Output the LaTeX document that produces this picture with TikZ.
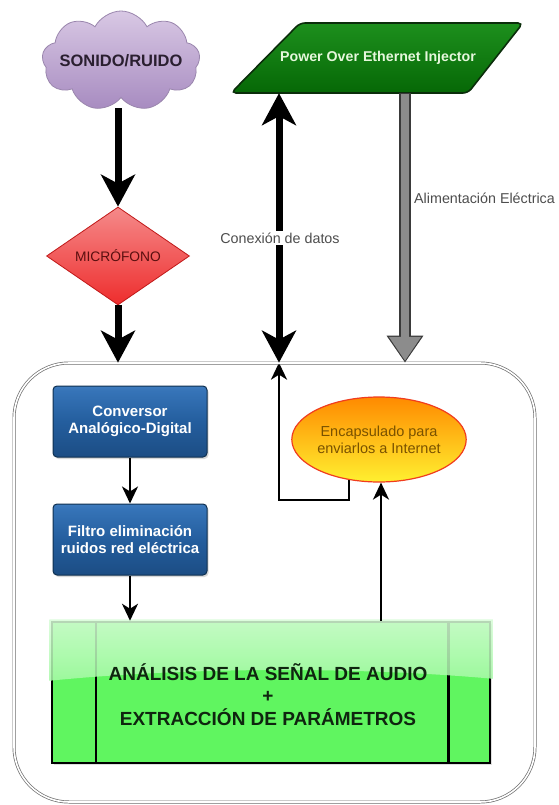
\documentclass[tikz,border=0pt]{standalone}
\usepackage{fontspec}
\setmainfont{Liberation Sans}
\usetikzlibrary{shapes.geometric,shapes.symbols,arrows.meta,shadows,calc,backgrounds}
\definecolor{cloudtop}{HTML}{D8C8E4}
\definecolor{cloudbot}{HTML}{A78BC0}
\definecolor{cloudline}{HTML}{9A86AD}
\definecolor{cloudtext}{HTML}{2A1F30}
\definecolor{mictop}{HTML}{F58A8A}
\definecolor{micbot}{HTML}{EE2D2D}
\definecolor{micline}{HTML}{C01818}
\definecolor{mictext}{HTML}{5A0F0F}
\definecolor{poetop}{HTML}{1D8F1D}
\definecolor{poebot}{HTML}{066806}
\definecolor{poeline}{HTML}{0B2E0B}
\definecolor{poetext}{HTML}{E6F7DC}
\definecolor{bluetop}{HTML}{8CC2EE}
\definecolor{bluemid}{HTML}{3674B8}
\definecolor{bluemidb}{HTML}{245E9E}
\definecolor{bluebot}{HTML}{143C6A}
\definecolor{blueline}{HTML}{0F3050}
\definecolor{enctop}{HTML}{FF8A00}
\definecolor{encbot}{HTML}{FFF030}
\definecolor{encline}{HTML}{F03C1E}
\definecolor{enctext}{HTML}{7A5200}
\definecolor{greenfill}{HTML}{60F560}
\definecolor{grtext}{HTML}{0F250F}
\definecolor{garrowfill}{HTML}{8C8C8C}
\definecolor{garrowline}{HTML}{3A3A3A}
\definecolor{lbltext}{HTML}{4D4D4D}
\definecolor{contline}{HTML}{6E6E6E}
\pgfdeclareverticalshading{bluegloss}{100bp}{color(0bp)=(bluebot); color(50bp)=(bluemidb); color(72bp)=(bluemid); color(100bp)=(bluetop)}
\begin{document}
\begin{tikzpicture}[x=1pt,y=-1pt,
  container/.style={draw=contline, double=white, double distance=1.6pt, line width=0.7pt,
    rounded corners=55pt, minimum width=521pt, minimum height=439pt, inner sep=0pt},
  cloudbox/.style={cloud, cloud puffs=9, cloud puff arc=125, aspect=1.6,
    minimum width=158pt, minimum height=100pt, inner sep=0pt, draw=cloudline, line width=0.8pt,
    top color=cloudtop, bottom color=cloudbot, text=cloudtext,
    font=\bfseries\fontsize{16.5}{18}\selectfont},
  micbox/.style={diamond, draw=micline, line width=0.8pt, top color=mictop, bottom color=micbot,
    minimum width=143pt, minimum height=94pt, inner sep=0pt, text=mictext,
    font=\fontsize{13.8}{15}\selectfont},
  poetxt/.style={minimum width=230pt, minimum height=70pt, inner sep=0pt, text=poetext,
    font=\bfseries\fontsize{14.2}{16}\selectfont},
  bluebox/.style={rectangle, rounded corners=4pt, draw=blueline, line width=1pt,
    shading=bluegloss,
    minimum width=154pt, minimum height=71pt, inner sep=0pt, align=center, text=white,
    font=\bfseries\fontsize{15}{17}\selectfont,
    drop shadow={opacity=0.3, shadow xshift=1.5pt, shadow yshift=-2pt}},
  encbox/.style={ellipse, draw=encline, line width=1.2pt, top color=enctop, bottom color=encbot,
    minimum width=164pt, minimum height=85pt, inner sep=0pt, align=center, text=enctext,
    font=\fontsize{14.5}{17}\selectfont},
  greenbox/.style={rectangle, draw=black, line width=2.5pt, fill=greenfill,
    minimum width=438pt, minimum height=141pt, inner sep=0pt,
    drop shadow={opacity=0.25, shadow xshift=2pt, shadow yshift=-2pt}},
  grlbl/.style={align=center, text=grtext, font=\bfseries\fontsize{19}{22.5}\selectfont},
  lbl/.style={text=lbltext, font=\fontsize{14.3}{16}\selectfont},
  bigarrow/.style={line width=7pt, -{Stealth[length=32pt, width=34pt, inset=9pt]}},
  bigdarrow/.style={line width=7pt, {Stealth[length=32pt, width=34pt, inset=9pt]}-{Stealth[length=32pt, width=34pt, inset=9pt]}},
  thinarrow/.style={line width=2.4pt, -{Stealth[length=17pt, width=16pt, inset=5pt]}},
  thinline/.style={line width=2.4pt}
]
\useasboundingbox (0,0) rectangle (558,805);
\begin{pgfonlayer}{background}
\fill[white] (0,0) rectangle (558,805);
\end{pgfonlayer}

% named x positions
\coordinate (datax) at (279,0);
\coordinate (powx) at (405,0);
\coordinate (loopx) at (349,0);
\coordinate (loopy) at (0,500);

% container
\node[container] (cont) at (274.5,582.5) {};

% top shapes
\node[cloudbox] (cloud) at (121,61) {\makebox[0pt]{SONIDO/RUIDO}};
\node[micbox] (mic) at (118,256) {MICRÓFONO};
\path[draw=poeline, line width=1.6pt, top color=poetop, bottom color=poebot, rounded corners=5pt]
  (300,23) -- (523,23) -- (468,93) -- (231,93) -- cycle;
\node[poetxt] (poe) at (378,58) {Power Over Ethernet Injector};

% inner shapes
\node[bluebox] (conv) at (130,421.5) {Conversor\\Analógico-Digital};
\node[bluebox] (filt) at (130,539.5) {Filtro eliminación\\ruidos red eléctrica};
\node[encbox] (encap) at (379,439.5) {Encapsulado para\\enviarlos a Internet};
\node[greenbox] (green) at (271,692.5) {};
\draw[line width=2.5pt] ($(green.north west)+(45,0)$) -- ($(green.south west)+(45,0)$);
\draw[line width=2.5pt] ($(green.north east)+(-43,0)$) -- ($(green.south east)+(-43,0)$);
\shade[top color=white!75!greenfill, bottom color=white!45!greenfill, fill opacity=0.85]
  ($(green.north west)+(-1.5,-1.5)$) -- ($(green.north east)+(1.5,-1.5)$) -- ($(green.north east)+(1.5,58)$)
  .. controls ($(green.north east)+(-120,47)$) and ($(green.north west)+(150,45)$) ..
  ($(green.north west)+(-1.5,60)$) -- cycle;
\node[grlbl] (grlbl) at ($(green.center)+(-3,2)$) {ANÁLISIS DE LA SEÑAL DE AUDIO\\+\\EXTRACCIÓN DE PARÁMETROS};

% big arrows
\draw[bigarrow, shorten <=10pt] (cloud.south -| mic.north) -- (mic.north);
\draw[bigarrow] (mic.south) -- (cont.north -| mic.south);
\draw[bigdarrow] (poe.south -| datax) -- (cont.north -| datax);
\draw[line width=11.5pt, draw=garrowline, -{Triangle[length=27pt, width=35pt]}] (poe.south -| powx) -- (cont.north -| powx);
\draw[line width=8.5pt, draw=garrowfill, -{Triangle[length=24pt, width=30.5pt]}, shorten >=1.8pt, shorten <=1.2pt] (poe.south -| powx) -- (cont.north -| powx);

% labels
\node[lbl, fill=white, inner sep=1.5pt] (conlbl) at (280,238) {Conexión de datos};
\node[lbl, anchor=west, inner sep=0pt] (alilbl) at (414,198) {Alimentación Eléctrica};

% thin arrows
\draw[thinarrow] (conv.south) -- (filt.north);
\draw[thinarrow] (filt.south) -- (green.north -| filt.south);
\draw[thinarrow] (green.north -| encap.south) ++(2,0) -- ($(encap.south)+(2,0)$);
\begin{pgfonlayer}{background}
\draw[thinline, -{Stealth[length=17pt, width=16pt, inset=5pt]}, line join=miter]
  (encap.center -| loopx) -- (loopx |- loopy) -- (datax |- loopy) -- (cont.north -| datax);
\end{pgfonlayer}
\end{tikzpicture}
\end{document}
